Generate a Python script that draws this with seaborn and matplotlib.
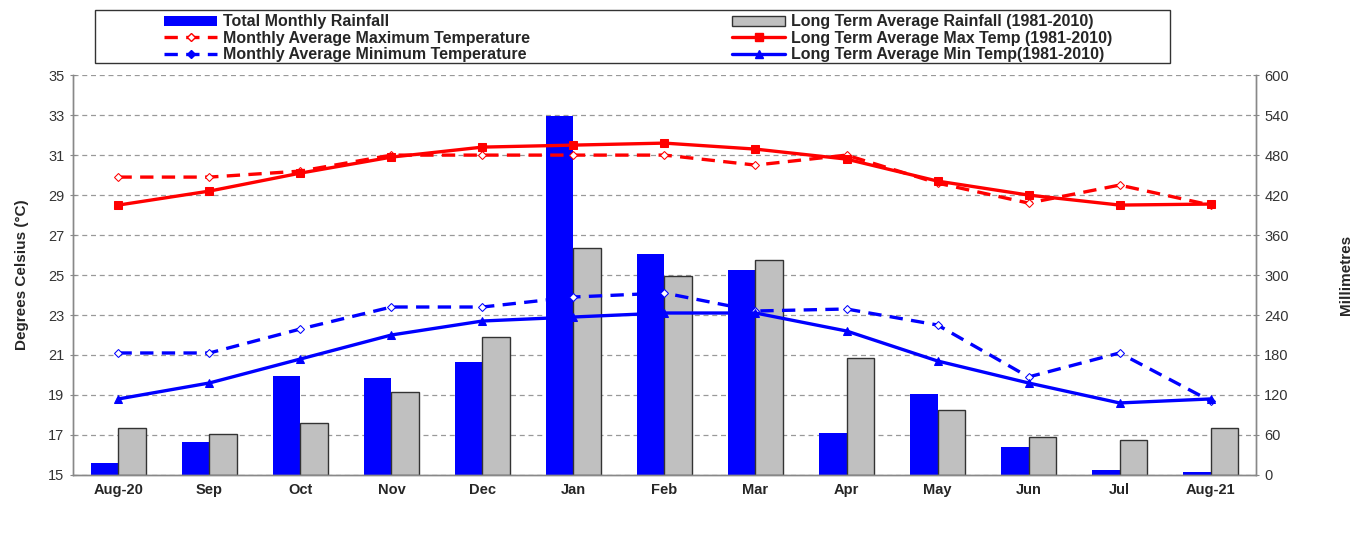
import numpy as np
import pandas as pd
import matplotlib
matplotlib.use("Agg")
import matplotlib.pyplot as plt
from matplotlib.lines import Line2D
from matplotlib.patches import Patch, Rectangle
import seaborn as sns

# months Aug 2020 - Aug 2021
months = ['Aug-20', 'Sep', 'Oct', 'Nov', 'Dec', 'Jan', 'Feb', 'Mar', 'Apr', 'May', 'Jun', 'Jul', 'Aug-21']

# rainfall (mm)
rain_total = [18, 50, 148, 145, 170, 539, 332, 308, 63, 122, 42, 8, 4]
rain_lta = [70, 62, 78, 124, 207, 341, 298, 323, 175, 98, 57, 52, 70]

# temperatures (deg C)
tmax_month = [29.9, 29.9, 30.2, 31.0, 31.0, 31.0, 31.0, 30.5, 31.0, 29.6, 28.6, 29.5, 28.5]
tmax_lta = [28.5, 29.2, 30.1, 30.9, 31.4, 31.5, 31.6, 31.3, 30.8, 29.7, 29.0, 28.5, 28.55]
tmin_month = [21.1, 21.1, 22.3, 23.4, 23.4, 23.9, 24.1, 23.2, 23.3, 22.5, 19.9, 21.1, 18.7]
tmin_lta = [18.8, 19.6, 20.8, 22.0, 22.7, 22.9, 23.1, 23.1, 22.2, 20.7, 19.6, 18.6, 18.8]

sns.set_style("white")
plt.rcParams['font.family'] = ['Liberation Sans', 'DejaVu Sans']

BLUE = '#0000FF'
RED = '#FF0000'
GREY = '#C0C0C0'

rain_df = pd.DataFrame({
    'month': months * 2,
    'mm': rain_total + rain_lta,
    'series': ['Total Monthly Rainfall'] * len(months) + ['Long Term Average Rainfall (1981-2010)'] * len(months),
})

fig, ax = plt.subplots(figsize=(13.51, 5.33), dpi=100)
fig.subplots_adjust(left=0.054, right=0.9297, top=0.859, bottom=0.109)
ax2 = ax.twinx()

# bars on the rainfall axis
sns.barplot(data=rain_df, x='month', y='mm', hue='series', order=months,
            palette=[BLUE, GREY], width=0.6, saturation=1, edgecolor='#333333', linewidth=1.0,
            legend=False, ax=ax2)
for p in ax2.patches:
    fc = p.get_facecolor()
    if fc[2] > 0.9 and fc[0] < 0.1:
        p.set_linewidth(0)
        p.set_edgecolor(BLUE)

# temperature lines
x = np.arange(len(months))
dash = (0, (4, 2.5))
sns.lineplot(x=x, y=tmax_month, color=RED, linestyle=dash, lw=2.4, marker='D', ms=4,
             markerfacecolor='white', markeredgecolor=RED, legend=False, ax=ax)
sns.lineplot(x=x, y=tmax_lta, color=RED, lw=2.4, marker='s', ms=6,
             markeredgecolor=RED, legend=False, ax=ax)
sns.lineplot(x=x, y=tmin_month, color=BLUE, linestyle=dash, lw=2.4, marker='D', ms=4,
             markerfacecolor='white', markeredgecolor=BLUE, legend=False, ax=ax)
sns.lineplot(x=x, y=tmin_lta, color=BLUE, lw=2.4, marker='^', ms=6,
             markeredgecolor=BLUE, legend=False, ax=ax)

# lines above bars
ax.set_zorder(ax2.get_zorder() + 1)
ax.patch.set_visible(False)

ax.set_ylim(15, 35)
ax.set_yticks(np.arange(15, 36, 2))
ax2.set_ylim(0, 600)
ax2.set_yticks(np.arange(0, 601, 60))
ax.set_xlim(-0.5, len(months) - 0.5)
ax.set_xticks(x)
ax.set_xticklabels(months, fontsize=10.5, fontweight='bold')
ax.set_xticks(np.arange(-0.5, len(months), 1), minor=True)
ax.tick_params(axis='x', which='major', length=0, pad=6)
ax.tick_params(axis='x', which='minor', length=5, color='#888888', direction='out')
ax.tick_params(axis='y', length=5, color='#888888', labelsize=10.5, labelcolor='#333333', direction='inout')
ax2.tick_params(axis='y', length=5, color='#888888', labelsize=10.5, labelcolor='#333333', direction='inout')

ax2.grid(axis='y', color='#999999', linestyle=(0, (4, 3)), linewidth=0.9)
ax2.set_axisbelow(True)
ax.grid(False)
ax.set_xlabel('')
ax2.set_xlabel('')

for a in (ax, ax2):
    a.spines['top'].set_visible(False)
    for s in ('left', 'right', 'bottom'):
        a.spines[s].set_color('#888888')
        a.spines[s].set_linewidth(1.0)

label_font = dict(fontsize=11, fontweight='bold', family=['Liberation Sans Narrow', 'Liberation Sans', 'DejaVu Sans'])
ax.set_ylabel('Degrees Celsius (°C)', labelpad=14, **label_font)
ax2.set_ylabel('Millimetres', labelpad=36, **label_font)

# legend
handles = [
    Patch(facecolor=BLUE, edgecolor='none'),
    Line2D([], [], color=RED, lw=2.4, linestyle=dash, marker='D', ms=4, markerfacecolor='white'),
    Line2D([], [], color=BLUE, lw=2.4, linestyle=dash, marker='D', ms=4),
    Patch(facecolor=GREY, edgecolor='#333333', linewidth=1.0),
    Line2D([], [], color=RED, lw=2.4, marker='s', ms=6),
    Line2D([], [], color=BLUE, lw=2.4, marker='^', ms=6),
]
labels = ['Total Monthly Rainfall', 'Monthly Average Maximum Temperature',
          'Monthly Average Minimum Temperature', 'Long Term Average Rainfall (1981-2010)',
          'Long Term Average Max Temp (1981-2010)', 'Long Term Average Min Temp(1981-2010)']
fig.legend(handles, labels, loc='upper left', bbox_to_anchor=(0.111, 1.0), ncol=2,
           frameon=False, prop={'size': 11.5, 'weight': 'bold'}, handlelength=3.3,
           handleheight=0.6, handletextpad=0.35, columnspacing=12.7, labelspacing=0.08)
fig.patches.append(Rectangle((0.0703, 0.8818), 0.7957, 0.0994, transform=fig.transFigure,
                             fill=False, edgecolor='#333333', linewidth=1.0))

fig.savefig('out.png', dpi=100)
